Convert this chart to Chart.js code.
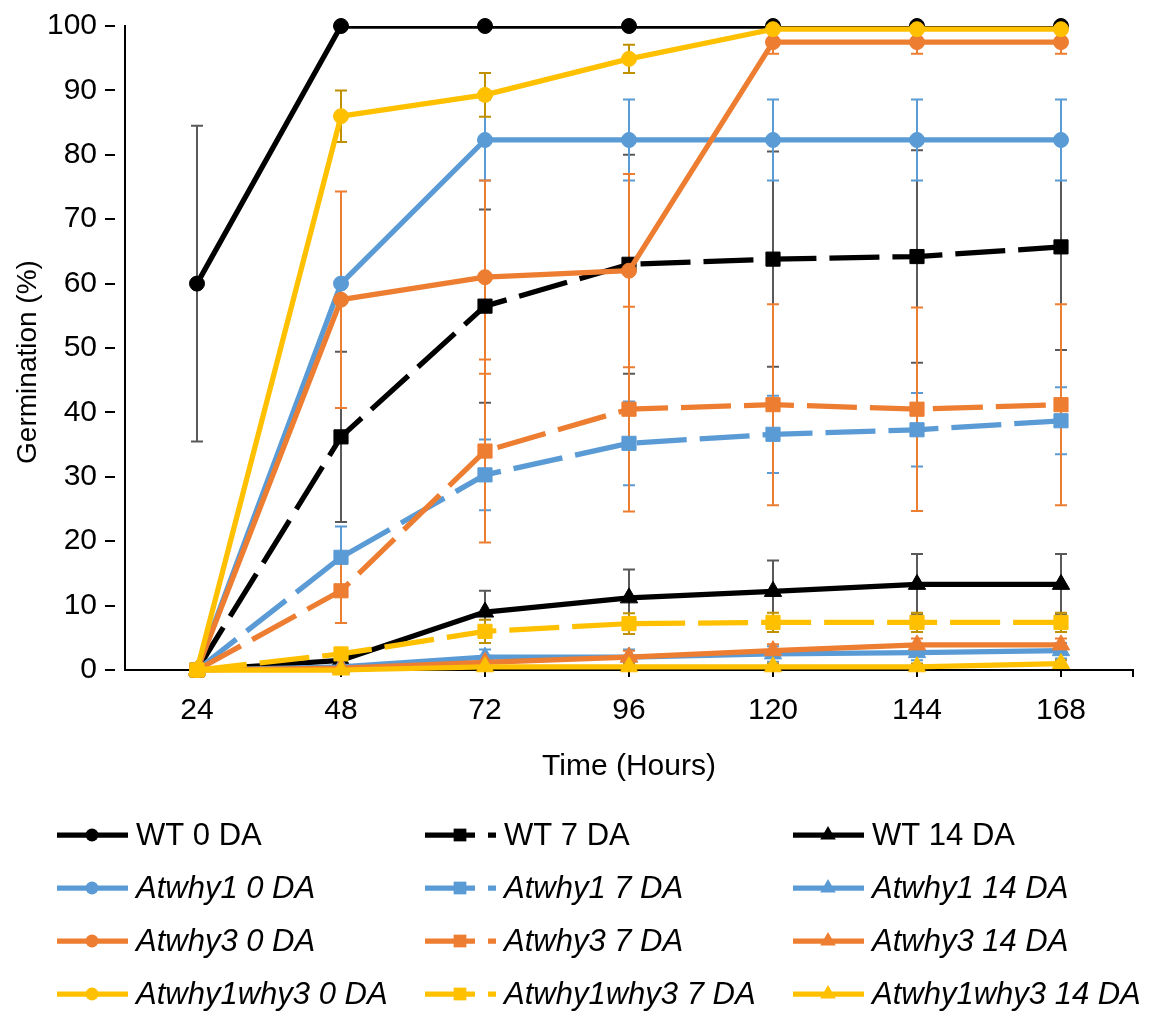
<!DOCTYPE html>
<html>
<head>
<meta charset="utf-8">
<title>Germination</title>
<script src="https://cdn.jsdelivr.net/npm/chart.js@4.4.1/dist/chart.umd.min.js"></script>
<style>
  html, body { margin: 0; padding: 0; background: #fff; }
  #wrap { width: 1160px; height: 1011px; position: relative; }
</style>
</head>
<body>
<div id="wrap"><canvas id="germChart"></canvas></div>
<script>
// Time points (hours)
const hours = ['24', '48', '72', '96', '120', '144', '168'];
const yTicks = [0, 10, 20, 30, 40, 50, 60, 70, 80, 90, 100];

// Germination (%) and error (+/-) per line and days of after-ripening
const wt0 = [60, 100, 100, 100, 100, 100, 100];
const wt0Err = [24.5, 0, 0, 0, 0, 0, 0];
const wt7 = [0, 36.2, 56.5, 63, 63.8, 64.2, 65.7];
const wt7Err = [0, 13.2, 15, 17, 16.7, 16.5, 16];
const wt14 = [0, 1.5, 9, 11.2, 12.2, 13.3, 13.3];
const wt14Err = [0, 0.5, 3.3, 4.4, 4.8, 4.7, 4.7];

const why1_0 = [0, 60, 82.3, 82.3, 82.3, 82.3, 82.3];
const why1_0Err = [0, 0, 6.3, 6.3, 6.3, 6.3, 6.3];
const why1_7 = [0, 17.5, 30.3, 35.2, 36.6, 37.3, 38.7];
const why1_7Err = [0, 4.8, 5.5, 6.5, 6, 5.7, 5.2];
const why1_14 = [0, 0.5, 2, 2, 2.5, 2.7, 3];
const why1_14Err = [0, 0.3, 1.2, 1.2, 1.2, 1.2, 1.2];

const why3_0 = [0, 57.5, 61, 62, 97.5, 97.5, 97.5];
const why3_0Err = [0, 16.8, 15, 15, 1.8, 1.8, 1.8];
const why3_7 = [0, 12.3, 34, 40.5, 41.2, 40.5, 41.2];
const why3_7Err = [0, 5, 14.2, 15.9, 15.6, 15.8, 15.6];
const why3_14 = [0, 0.3, 1.2, 2, 3, 3.9, 3.9];
const why3_14Err = [0, 0.3, 0.8, 1, 1, 1, 1];

const dbl_0 = [0, 86, 89.3, 94.9, 99.5, 99.5, 99.5];
const dbl_0Err = [0, 4, 3.4, 2.2, 0.5, 0.5, 0.5];
const dbl_7 = [0, 2.5, 6, 7.2, 7.4, 7.4, 7.4];
const dbl_7Err = [0, 0.8, 1.8, 1.6, 1.5, 1.5, 1.5];
const dbl_14 = [0, 0, 0.5, 0.5, 0.5, 0.5, 1];
const dbl_14Err = [0, 0, 0.5, 0.5, 0.5, 0.5, 0.5];

const FONT = "'Liberation Sans', Arial, sans-serif";
const DASH = [50, 13];
const LINE_W = 5.25;

// colours
const BLACK = '#000000', BLUE = '#5B9BD5', ORANGE = '#ED7D31', YELLOW = '#FFC000';

function series(label, data, errors, color, errColor, dashed, marker, italic) {
    return {
        label: label,
        data: data,
        errors: errors,
        errColor: errColor,
        italic: italic,
        borderColor: color,
        backgroundColor: color,
        pointBackgroundColor: color,
        pointBorderColor: color,
        borderWidth: LINE_W,
        borderDash: dashed ? DASH : [],
        borderJoinStyle: 'round',
        pointStyle: marker,
        pointRadius: marker === 'circle' ? 7.5 : 10,
        pointBorderWidth: 1,
        tension: 0,
        clip: false
    };
}

const datasets = [
    series('WT 0 DA', wt0, wt0Err, BLACK, '#595959', false, 'circle', false),
    series('WT 7 DA', wt7, wt7Err, BLACK, '#595959', true, 'rect', false),
    series('WT 14 DA', wt14, wt14Err, BLACK, '#595959', false, 'triangle', false),
    series('Atwhy1 0 DA', why1_0, why1_0Err, BLUE, BLUE, false, 'circle', true),
    series('Atwhy1 7 DA', why1_7, why1_7Err, BLUE, BLUE, true, 'rect', true),
    series('Atwhy1 14 DA', why1_14, why1_14Err, BLUE, BLUE, false, 'triangle', true),
    series('Atwhy3 0 DA', why3_0, why3_0Err, ORANGE, ORANGE, false, 'circle', true),
    series('Atwhy3 7 DA', why3_7, why3_7Err, ORANGE, ORANGE, true, 'rect', true),
    series('Atwhy3 14 DA', why3_14, why3_14Err, ORANGE, ORANGE, false, 'triangle', true),
    series('Atwhy1why3 0 DA', dbl_0, dbl_0Err, YELLOW, '#BF9000', false, 'circle', true),
    series('Atwhy1why3 7 DA', dbl_7, dbl_7Err, YELLOW, '#BF9000', true, 'rect', true),
    series('Atwhy1why3 14 DA', dbl_14, dbl_14Err, YELLOW, '#BF9000', false, 'triangle', true)
];

// WT 0 DA line is cut at the top of the plot like in Excel, markers are not
datasets[0].clip = { left: false, top: 0, right: false, bottom: false };
datasets[0].pointRadius = 0;
const wt0Markers = Object.assign({}, datasets[0], {
    label: 'WT 0 DA markers', showLine: false, pointRadius: 7.5, clip: false, errors: null, helper: true
});
datasets.splice(1, 0, wt0Markers);

// later series are drawn on top
datasets.forEach((ds, i) => { ds.order = datasets.length - i; });

function drawMarker(ctx, style, x, y, r, color) {
    ctx.fillStyle = color;
    ctx.beginPath();
    if (style === 'circle') {
        ctx.arc(x, y, r, 0, Math.PI * 2);
    } else if (style === 'rect') {
        const s = r * Math.SQRT1_2;
        ctx.rect(x - s, y - s, 2 * s, 2 * s);
    } else {
        for (let k = 0; k < 3; k++) {
            const ang = -Math.PI / 2 + k * 2 * Math.PI / 3;
            const px = x + r * Math.cos(ang), py = y + r * Math.sin(ang);
            if (k === 0) ctx.moveTo(px, py); else ctx.lineTo(px, py);
        }
        ctx.closePath();
    }
    ctx.fill();
}

// Error bars drawn under the lines
const errorBars = {
    id: 'errorBars',
    beforeDatasetsDraw(chart) {
        const ctx = chart.ctx;
        const x = chart.scales.x, y = chart.scales.y;
        chart.data.datasets.forEach(ds => {
            if (!ds.errors) return;
            ctx.save();
            ctx.strokeStyle = ds.errColor;
            ctx.lineWidth = 2;
            ds.data.forEach((v, j) => {
                const e = ds.errors[j];
                if (!e) return;
                const px = x.getPixelForValue(j);
                const top = y.getPixelForValue(Math.min(100, v + e));
                const bot = y.getPixelForValue(Math.max(0, v - e));
                ctx.beginPath();
                ctx.moveTo(px, top); ctx.lineTo(px, bot);
                ctx.moveTo(px - 6, top); ctx.lineTo(px + 6, top);
                ctx.moveTo(px - 6, bot); ctx.lineTo(px + 6, bot);
                ctx.stroke();
            });
            ctx.restore();
        });
    }
};

// Legend in 3 columns x 4 rows, y axis title, end tick of the x axis
const gridLegend = {
    id: 'gridLegend',
    afterDraw(chart) {
        const ctx = chart.ctx;
        const colX = [57, 425, 793];
        const rowY = [835, 888, 941, 994];
        const items = chart.data.datasets.filter(ds => !ds.helper);
        items.forEach((ds, i) => {
            const x = colX[i % 3], y = rowY[Math.floor(i / 3)];
            ctx.save();
            ctx.strokeStyle = ds.borderColor;
            ctx.lineWidth = LINE_W;
            ctx.setLineDash(ds.borderDash);
            ctx.beginPath();
            ctx.moveTo(x, y); ctx.lineTo(x + 71, y);
            ctx.stroke();
            ctx.setLineDash([]);
            drawMarker(ctx, ds.pointStyle, x + 35, y, ds.pointStyle === 'circle' ? 6.5 : 9, ds.borderColor);
            ctx.fillStyle = '#000';
            ctx.font = (ds.italic ? 'italic ' : '') + '31px ' + FONT;
            ctx.textBaseline = 'middle';
            ctx.textAlign = 'left';
            ctx.fillText(ds.label, x + 79, y + 1);
            ctx.restore();
        });

        const a = chart.chartArea;
        ctx.save();
        ctx.strokeStyle = '#000';
        ctx.lineWidth = 2;
        ctx.beginPath();
        ctx.moveTo(a.right, a.bottom); ctx.lineTo(a.right, a.bottom + 7);
        ctx.stroke();

        ctx.translate(28, 362);
        ctx.rotate(-Math.PI / 2);
        ctx.fillStyle = '#000';
        ctx.font = '28px ' + FONT;
        ctx.textAlign = 'center';
        ctx.textBaseline = 'middle';
        ctx.fillText('Germination (%)', 0, 0);
        ctx.restore();
    }
};

const canvas = document.getElementById('germChart');
canvas.width = 1160;
canvas.height = 1011;

new Chart(canvas.getContext('2d'), {
    type: 'line',
    data: { labels: hours, datasets: datasets },
    options: {
        responsive: false,
        animation: false,
        devicePixelRatio: 1,
        layout: { padding: { top: 25, right: 27, bottom: 226, left: 0 } },
        plugins: {
            legend: { display: false },
            tooltip: { enabled: false }
        },
        scales: {
            x: {
                type: 'category',
                offset: true,
                afterFit: scale => { scale.height = 115; },
                grid: { drawOnChartArea: false, drawTicks: true, tickLength: 7, color: '#000', lineWidth: 2 },
                border: { display: true, color: '#000', width: 2 },
                ticks: { color: '#000', font: { family: FONT, size: 30 }, padding: 16, maxRotation: 0 },
                title: { display: true, text: 'Time (Hours)', color: '#000', font: { family: FONT, size: 30 }, padding: { top: 0, bottom: 0 } }
            },
            y: {
                min: 0,
                max: 100,
                afterFit: scale => { scale.width = 125; },
                afterBuildTicks: scale => { scale.ticks = yTicks.map(v => ({ value: v })); },
                // 20px tick space, only the first 10px drawn as a mark
                grid: { drawOnChartArea: false, drawTicks: true, tickLength: 20, tickBorderDash: [10, 30], color: '#000', lineWidth: 2 },
                border: { display: true, color: '#000', width: 2 },
                ticks: { color: '#000', font: { family: FONT, size: 30 }, padding: 8 },
                title: { display: false }
            }
        }
    },
    plugins: [errorBars, gridLegend]
});
</script>
</body>
</html>
